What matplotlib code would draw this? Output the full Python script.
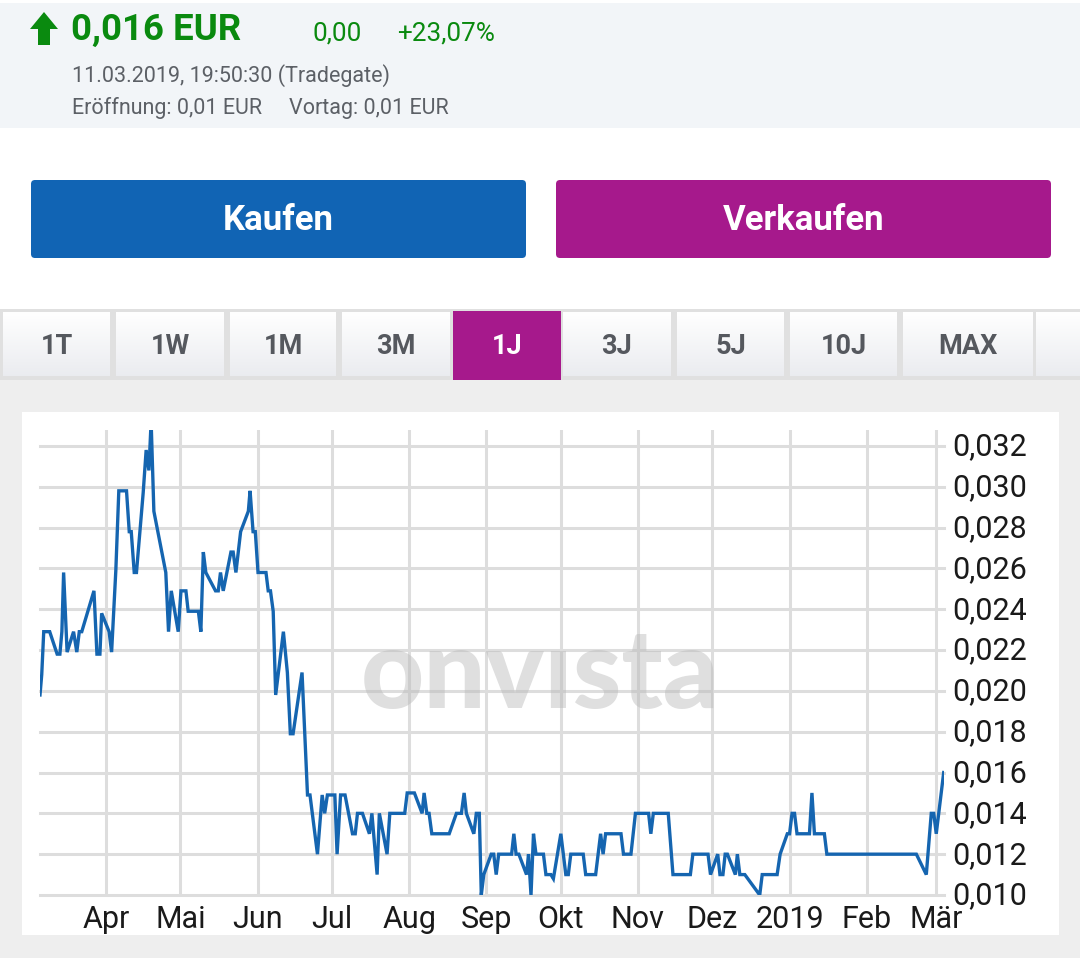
import matplotlib
matplotlib.use('Agg')
import matplotlib.pyplot as plt
from matplotlib.patches import FancyBboxPatch, Polygon, Rectangle
from matplotlib.transforms import ScaledTranslation
import numpy as np

plt.rcParams['font.family'] = ['Roboto', 'DejaVu Sans']

# days since 1 Apr 2018, price in EUR
days = [-26.5, -25.8, -25, -22.6, -19.6, -18.5, -17.7, -17, -15.6, -13, -11.7, -10.7, -9.7,
        -4.8, -3.6, -2.4, -1.7, 1.3, 2.3, 4, 5.2, 8.3, 9.4, 10.2, 11.4, 12.3, 15, 16.2, 17.3,
        18.2, 19.3, 24.1, 25.2, 26.3, 29.1, 30.2, 32.2, 33.1, 37.2, 38.2, 39.2, 40.2, 44.1,
        45.2, 46.1, 47.2, 50.3, 51.2, 52.3, 54.2, 57.3, 58, 59.2, 60.1, 61.2, 64.4, 65.3,
        66.2, 67.3, 68.3, 71.4, 73, 74.2, 75.3, 78.9, 81.1, 82.1, 85.1, 87, 88, 89.1, 92.1,
        93, 94.4, 96.2, 99.2, 100.3, 101.2, 103.2, 106, 107, 109.1, 110, 113.1, 114.2, 120.2,
        121.2, 124.1, 127.2, 128, 129.1, 130, 131.1, 138.1, 141, 143, 144.1, 145, 148, 149,
        150.2, 151, 152, 155, 156, 157, 158, 163.2, 164.1, 165, 166.1, 169.2, 170, 171, 172,
        173, 176, 177, 179, 180, 183, 185, 186, 187, 192, 193, 197, 199, 200, 201, 207.2,
        208.2, 211.2, 213, 218.3, 219.2, 220.2, 226.2, 228.1, 235.1, 236.1, 242.2, 243.2,
        246.1, 247, 248.2, 249.1, 250, 253.2, 254, 255, 257, 263, 264, 270, 271.2, 274.1,
        275, 276, 277, 278, 283, 284, 285, 289, 290, 326, 330, 332, 333, 334, 337]
prices = [.0198, .0208, .0229, .0229, .0218, .0218, .0229, .0258, .0219, .0229, .0219, .0229, .0229,
          .0249, .0218, .0218, .0238, .0229, .0219, .0259, .0298, .0298, .0278, .0278, .0258, .0258, .0297, .0318, .0308,
          .0332, .0288, .0258, .0229, .0249, .0229, .0249, .0249, .0239, .0239, .0229, .0268, .0258, .0249,
          .0249, .0258, .0249, .0268, .0268, .0258, .0278, .0288, .0298, .0278, .0278, .0258, .0258, .0249,
          .0249, .0239, .0198, .0229, .0209, .0179, .0179, .0209, .0149, .0149, .012, .0149, .014, .0149, .0149,
          .012, .0149, .0149, .013, .013, .014, .014, .013, .014, .011, .014, .012, .014, .014,
          .015, .015, .014, .015, .014, .014, .013, .013, .014, .014, .015, .014, .013, .014,
          .014, .010, .011, .012, .012, .011, .012, .012, .013, .012, .012, .011, .012, .010, .013,
          .012, .012, .011, .011, .0108, .013, .011, .011, .012, .012, .011, .011, .013, .012, .013, .013,
          .012, .012, .014, .014, .013, .014, .014, .011, .011, .012, .012, .011,
          .012, .011, .011, .012, .012, .011, .012, .011, .011, .010, .011, .011, .012, .013,
          .013, .014, .014, .013, .013, .015, .013, .013, .012, .012, .011, .014, .014, .013, .016]

month_days = [0, 30, 61, 91, 122, 153, 183, 214, 244, 275, 306, 334]
month_labels = ['Apr', 'Mai', 'Jun', 'Jul', 'Aug', 'Sep', 'Okt', 'Nov', 'Dez', '2019', 'Feb', 'Mär']
price_ticks = [.010, .012, .014, .016, .018, .020, .022, .024, .026, .028, .030, .032]
price_labels = ['0,010', '0,012', '0,014', '0,016', '0,018', '0,020', '0,022', '0,024',
                '0,026', '0,028', '0,030', '0,032']

tab_labels = ['1T', '1W', '1M', '3M', '1J', '3J', '5J', '10J', 'MAX']
tab_left = [3, 116, 230, 342, 453, 563, 677, 790, 903]
tab_right = [110, 224, 336, 450, 561, 671, 784, 897, 1033]

W, H = 1080, 958
fig = plt.figure(figsize=(W / 100, H / 100), dpi=100, facecolor='white')

# page furniture, in pixel coordinates
ui = fig.add_axes([0, 0, 1, 1], zorder=0)
ui.set_xlim(0, W)
ui.set_ylim(H, 0)
ui.axis('off')

ui.add_patch(Rectangle((0, 3), W, 125, fc='#f2f5f8', ec='none'))
ui.add_patch(Polygon([(44, 12), (58, 29), (50, 29), (50, 45), (38, 45), (38, 29), (30, 29)],
                     fc='#0a8a0f', ec='none'))
green = '#0a8a0f'
grey = '#5c6066'
ui.text(71, 30, '0,016 EUR', color=green, fontsize=26.4, fontweight='bold', va='center')
ui.text(312, 33, '0,00', color=green, fontsize=18.8, va='center')
ui.text(397, 33, '+23,07%', color=green, fontsize=18.8, va='center')
ui.text(72, 76, '11.03.2019, 19:50:30 (Tradegate)', color=grey, fontsize=15.5, va='center')
ui.text(72, 108, 'Eröffnung: 0,01 EUR', color=grey, fontsize=15.5, va='center')
ui.text(289, 108, 'Vortag: 0,01 EUR', color=grey, fontsize=15.5, va='center')

for x0, x1, col, lab in [(31, 526, '#1164b4', 'Kaufen'), (556, 1051, '#a6198c', 'Verkaufen')]:
    ui.add_patch(FancyBboxPatch((x0 + 4, 184), x1 - x0 - 8, 70, boxstyle='round,pad=4',
                                fc=col, ec='none'))
    ui.text((x0 + x1) / 2, 220, lab, color='white', fontsize=25, fontweight='bold',
            ha='center', va='center')

# tabs
ui.add_patch(Rectangle((0, 309), W, 71, fc='#e0e0e0', ec='none'))
ui.add_patch(Rectangle((0, 380), W, H - 380, fc='#eeeeee', ec='none'))
grad = np.linspace(1, 0, 64).reshape(-1, 1)
grad = np.dstack([0.92 + 0.08 * grad, 0.925 + 0.075 * grad, 0.94 + 0.06 * grad])
for x0, x1 in list(zip(tab_left, tab_right)) + [(1036, 1080)]:
    ui.imshow(grad, extent=(x0, x1, 376, 312), aspect='auto', zorder=1)
ui.set_xlim(0, W)
ui.set_ylim(H, 0)
for x0, x1, lab in zip(tab_left, tab_right, tab_labels):
    if lab == '1J':
        ui.add_patch(Rectangle((x0, 311), x1 - x0, 69, fc='#a6198c', ec='none', zorder=2))
        col = 'white'
    else:
        col = '#55585e'
    ui.text((x0 + x1) / 2, 346, lab, color=col, fontsize=19.5, fontweight='bold',
            ha='center', va='center', zorder=3)

ui.add_patch(Rectangle((22, 412), 1037, 523, fc='white', ec='none'))

# price chart
ax = fig.add_axes([40 / W, 1 - 895 / H, (943.7 - 40) / W, (895 - 430) / H], zorder=1)
ax.patch.set_alpha(0)
ax.plot(days, prices, color='#1565b0', lw=2.4, solid_joinstyle='miter', zorder=3)
ax.set_xlim(-26.5, 337)
ax.set_ylim(.010, .03278)
ax.set_xticks(month_days)
ax.set_xticklabels(month_labels)
ax.set_yticks(price_ticks)
ax.set_yticklabels(price_labels)
ax.yaxis.tick_right()
ax.tick_params(length=0, labelsize=22, labelcolor='#1a1a1a')
ax.tick_params(axis='x', pad=7)
ax.tick_params(axis='y', pad=6)
ax.grid(True, color='#dddddd', lw=2.2)
for gl in ax.get_ygridlines():
    gl.set_clip_on(False)
for s in ax.spines.values():
    s.set_visible(False)
ax.set_axisbelow(True)

# labels sit 2px higher in the reference
shift = ScaledTranslation(0, 2 / 100, fig.dpi_scale_trans)
for tick in ax.yaxis.get_major_ticks():
    tick.label2.set_transform(tick.label2.get_transform() + shift)

# the logo has an undotted i
fig.text(540 / W, 1 - 708 / H, 'onvısta', color='#b8b8b8', alpha=0.45, fontsize=79,
         fontweight='black', family='Lato', ha='center', va='baseline', zorder=2)

fig.savefig('out.png', dpi=100)
